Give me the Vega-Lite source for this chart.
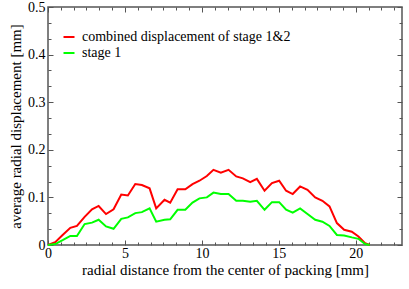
{
"$schema":"https://vega.github.io/schema/vega-lite/v6.json",
"width":354,"height":238,"autosize":"none",
"padding":{"left":48,"top":7,"right":7,"bottom":44},
"datasets":{"d":[
{"r":0,"d":0,"s":"combined displacement of stage 1&2"},{"r":0.47,"d":0.006,"s":"combined displacement of stage 1&2"},{"r":0.95,"d":0.021,"s":"combined displacement of stage 1&2"},{"r":1.45,"d":0.036,"s":"combined displacement of stage 1&2"},{"r":1.88,"d":0.040,"s":"combined displacement of stage 1&2"},{"r":2.38,"d":0.059,"s":"combined displacement of stage 1&2"},{"r":2.86,"d":0.075,"s":"combined displacement of stage 1&2"},{"r":3.29,"d":0.082,"s":"combined displacement of stage 1&2"},{"r":3.77,"d":0.065,"s":"combined displacement of stage 1&2"},{"r":4.26,"d":0.075,"s":"combined displacement of stage 1&2"},{"r":4.76,"d":0.106,"s":"combined displacement of stage 1&2"},{"r":5.19,"d":0.104,"s":"combined displacement of stage 1&2"},{"r":5.67,"d":0.128,"s":"combined displacement of stage 1&2"},{"r":6.1,"d":0.126,"s":"combined displacement of stage 1&2"},{"r":6.6,"d":0.119,"s":"combined displacement of stage 1&2"},{"r":7.03,"d":0.077,"s":"combined displacement of stage 1&2"},{"r":7.57,"d":0.095,"s":"combined displacement of stage 1&2"},{"r":7.94,"d":0.089,"s":"combined displacement of stage 1&2"},{"r":8.42,"d":0.117,"s":"combined displacement of stage 1&2"},{"r":8.92,"d":0.117,"s":"combined displacement of stage 1&2"},{"r":9.39,"d":0.128,"s":"combined displacement of stage 1&2"},{"r":9.84,"d":0.135,"s":"combined displacement of stage 1&2"},{"r":10.32,"d":0.145,"s":"combined displacement of stage 1&2"},{"r":10.75,"d":0.158,"s":"combined displacement of stage 1&2"},{"r":11.23,"d":0.152,"s":"combined displacement of stage 1&2"},{"r":11.73,"d":0.158,"s":"combined displacement of stage 1&2"},{"r":12.23,"d":0.144,"s":"combined displacement of stage 1&2"},{"r":12.66,"d":0.140,"s":"combined displacement of stage 1&2"},{"r":13.14,"d":0.132,"s":"combined displacement of stage 1&2"},{"r":13.57,"d":0.139,"s":"combined displacement of stage 1&2"},{"r":14.07,"d":0.114,"s":"combined displacement of stage 1&2"},{"r":14.55,"d":0.130,"s":"combined displacement of stage 1&2"},{"r":15.02,"d":0.135,"s":"combined displacement of stage 1&2"},{"r":15.47,"d":0.114,"s":"combined displacement of stage 1&2"},{"r":15.9,"d":0.107,"s":"combined displacement of stage 1&2"},{"r":16.38,"d":0.123,"s":"combined displacement of stage 1&2"},{"r":16.86,"d":0.116,"s":"combined displacement of stage 1&2"},{"r":17.36,"d":0.100,"s":"combined displacement of stage 1&2"},{"r":17.83,"d":0.093,"s":"combined displacement of stage 1&2"},{"r":18.29,"d":0.081,"s":"combined displacement of stage 1&2"},{"r":18.77,"d":0.046,"s":"combined displacement of stage 1&2"},{"r":19.24,"d":0.032,"s":"combined displacement of stage 1&2"},{"r":19.74,"d":0.028,"s":"combined displacement of stage 1&2"},{"r":20.17,"d":0.018,"s":"combined displacement of stage 1&2"},{"r":20.6,"d":0.004,"s":"combined displacement of stage 1&2"},{"r":20.9,"d":0,"s":"combined displacement of stage 1&2"},
{"r":0,"d":0,"s":"stage 1"},{"r":0.47,"d":0.002,"s":"stage 1"},{"r":0.95,"d":0.010,"s":"stage 1"},{"r":1.45,"d":0.019,"s":"stage 1"},{"r":1.88,"d":0.019,"s":"stage 1"},{"r":2.38,"d":0.044,"s":"stage 1"},{"r":2.86,"d":0.047,"s":"stage 1"},{"r":3.29,"d":0.053,"s":"stage 1"},{"r":3.77,"d":0.039,"s":"stage 1"},{"r":4.26,"d":0.034,"s":"stage 1"},{"r":4.76,"d":0.055,"s":"stage 1"},{"r":5.19,"d":0.058,"s":"stage 1"},{"r":5.67,"d":0.067,"s":"stage 1"},{"r":6.1,"d":0.069,"s":"stage 1"},{"r":6.6,"d":0.077,"s":"stage 1"},{"r":7.03,"d":0.049,"s":"stage 1"},{"r":7.57,"d":0.053,"s":"stage 1"},{"r":7.94,"d":0.054,"s":"stage 1"},{"r":8.42,"d":0.074,"s":"stage 1"},{"r":8.92,"d":0.074,"s":"stage 1"},{"r":9.39,"d":0.089,"s":"stage 1"},{"r":9.84,"d":0.098,"s":"stage 1"},{"r":10.32,"d":0.100,"s":"stage 1"},{"r":10.75,"d":0.110,"s":"stage 1"},{"r":11.23,"d":0.107,"s":"stage 1"},{"r":11.73,"d":0.107,"s":"stage 1"},{"r":12.23,"d":0.093,"s":"stage 1"},{"r":12.66,"d":0.093,"s":"stage 1"},{"r":13.14,"d":0.091,"s":"stage 1"},{"r":13.57,"d":0.093,"s":"stage 1"},{"r":14.07,"d":0.074,"s":"stage 1"},{"r":14.55,"d":0.090,"s":"stage 1"},{"r":15.02,"d":0.090,"s":"stage 1"},{"r":15.47,"d":0.074,"s":"stage 1"},{"r":15.9,"d":0.068,"s":"stage 1"},{"r":16.38,"d":0.077,"s":"stage 1"},{"r":16.86,"d":0.065,"s":"stage 1"},{"r":17.36,"d":0.053,"s":"stage 1"},{"r":17.83,"d":0.049,"s":"stage 1"},{"r":18.29,"d":0.040,"s":"stage 1"},{"r":18.77,"d":0.021,"s":"stage 1"},{"r":19.24,"d":0.020,"s":"stage 1"},{"r":19.74,"d":0.016,"s":"stage 1"},{"r":20.17,"d":0.013,"s":"stage 1"},{"r":20.6,"d":0.002,"s":"stage 1"},{"r":20.9,"d":0,"s":"stage 1"}
]},
"data":{"name":"d"},
"config":{
"view":{"stroke":"#555555","strokeWidth":1.5},
"font":"Liberation Serif",
"axis":{"domain":false,"grid":false,"labelFont":"Liberation Serif","titleFont":"Liberation Serif","labelColor":"#000000","titleColor":"#000000","tickColor":"#555555","tickWidth":1,"titleFontWeight":"normal","labelFontSize":14,"titleFontSize":15},
"legend":{"labelFont":"Liberation Serif","labelFontSize":14,"labelColor":"#000000","labelLimit":0}
},
"resolve":{"axis":{"x":"independent","y":"independent"}},
"layer":[
{"mark":{"type":"line","strokeWidth":2},
"encoding":{
"x":{"field":"r","type":"quantitative","scale":{"domain":[0,23],"nice":false,"zero":false},
 "axis":{"orient":"bottom","values":[0,5,10,15,20],"format":"~g","tickSize":-5,"labelPadding":6,"labelFlush":false,"title":"radial distance from the center of packing [mm]","titlePadding":2}},
"y":{"field":"d","type":"quantitative","scale":{"domain":[0,0.5],"nice":false},
 "axis":{"orient":"left","values":[0,0.1,0.2,0.3,0.4,0.5],"format":"~g","tickSize":-5,"labelPadding":8,"labelFlush":false,"title":"average radial displacement [mm]","titlePadding":4}},
"color":{"field":"s","type":"nominal","scale":{"domain":["combined displacement of stage 1&2","stage 1"],"range":["#ff0000","#00ff00"]},
 "legend":{"orient":"none","legendX":14,"legendY":23,"title":null,"symbolType":"stroke","symbolSize":121,"symbolStrokeWidth":2,"labelFont":"Liberation Serif","labelFontSize":14,"labelColor":"#000000","labelLimit":0,"labelOffset":6,"rowPadding":2,"padding":0}}
}},
{"mark":{"type":"line","opacity":0},
"encoding":{
"x":{"field":"r","type":"quantitative","axis":{"orient":"top","values":[0,5,10,15,20],"tickSize":-5,"labels":false,"title":null}},
"y":{"field":"d","type":"quantitative","axis":{"orient":"right","values":[0,0.1,0.2,0.3,0.4,0.5],"tickSize":-5,"labels":false,"title":null}},
"detail":{"field":"s"}
}},
{"mark":{"type":"line","opacity":0},
"encoding":{
"x":{"field":"r","type":"quantitative","axis":{"orient":"bottom","values":[0.8333,1.6667,2.5,3.3333,4.1667,5.8333,6.6667,7.5,8.3333,9.1667,10.8333,11.6667,12.5,13.3333,14.1667,15.8333,16.6667,17.5,18.3333,19.1667,20.8333,21.6667,22.5],"tickSize":-3,"labels":false,"title":null}},
"y":{"field":"d","type":"quantitative","axis":{"orient":"left","values":[0.0333,0.0667,0.1333,0.1667,0.2333,0.2667,0.3333,0.3667,0.4333,0.4667],"tickSize":-3,"labels":false,"title":null}},
"detail":{"field":"s"}
}},
{"mark":{"type":"line","opacity":0},
"encoding":{
"x":{"field":"r","type":"quantitative","axis":{"orient":"top","values":[0.8333,1.6667,2.5,3.3333,4.1667,5.8333,6.6667,7.5,8.3333,9.1667,10.8333,11.6667,12.5,13.3333,14.1667,15.8333,16.6667,17.5,18.3333,19.1667,20.8333,21.6667,22.5],"tickSize":-3,"labels":false,"title":null}},
"y":{"field":"d","type":"quantitative","axis":{"orient":"right","values":[0.0333,0.0667,0.1333,0.1667,0.2333,0.2667,0.3333,0.3667,0.4333,0.4667],"tickSize":-3,"labels":false,"title":null}},
"detail":{"field":"s"}
}}
]
}
